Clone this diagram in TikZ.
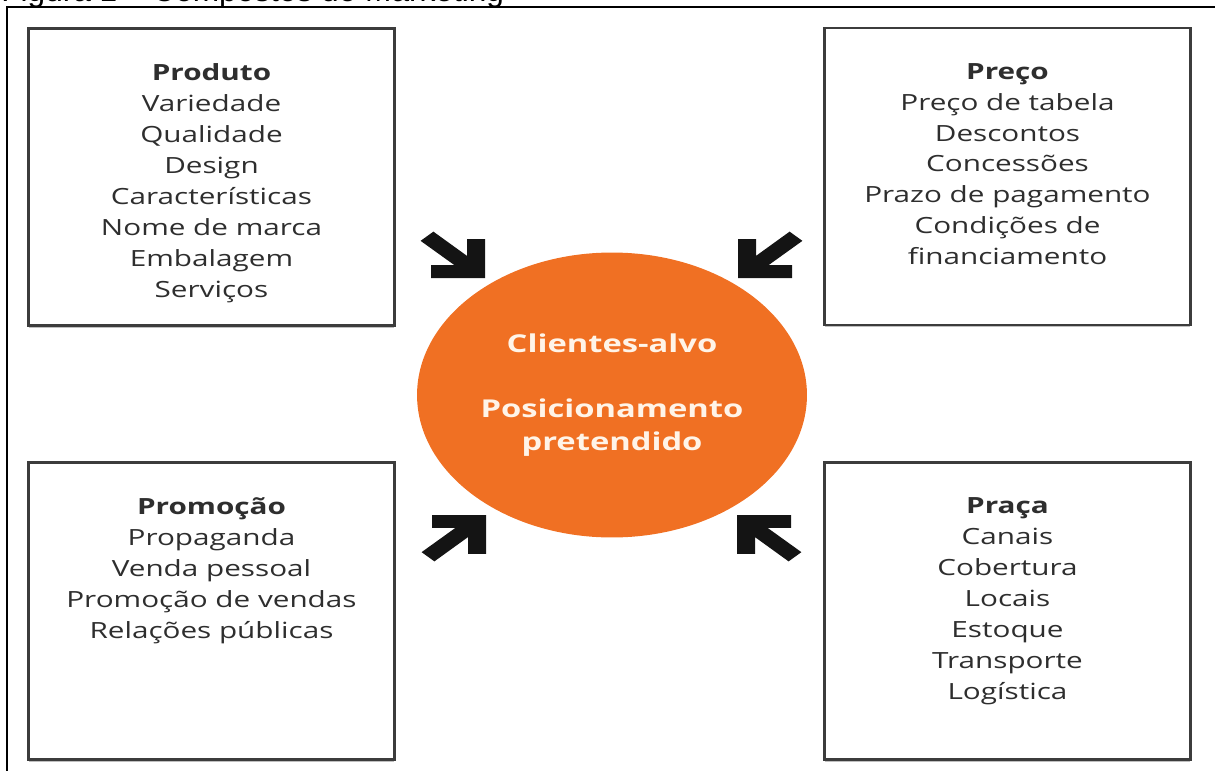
\documentclass[tikz,border=0pt]{standalone}
\usepackage{fontspec}
\setmainfont{Open Sans}[FakeStretch=1.33]
\newfontfamily\capfont{Liberation Sans}
\usetikzlibrary{positioning, shapes.geometric, shadows}

\definecolor{mixorange}{HTML}{F07023}
\definecolor{cream}{HTML}{FFF4E8}
\definecolor{boxgray}{HTML}{3C3C3C}
\definecolor{txtgray}{HTML}{2E2E2E}

\tikzset{pusharrow/.pic={
    \fill[black!92] (0,0) -- (0,-54) -- (-18,-54) -- (-18,-30.7) -- (-51.6,-64.4)
        -- (-64.4,-51.6) -- (-30.7,-18) -- (-54,-18) -- (-54,0) -- cycle;}}

\begin{document}
\begin{tikzpicture}[x=0.02cm, y=-0.02cm,
                    card/.style={draw=boxgray, line width=1.3pt, fill=white,
                            minimum width=7.32cm, minimum height=5.94cm,
                            drop shadow={shadow xshift=0pt, shadow yshift=-1.2pt, fill=black!50}},
                    list/.style={align=center, inner sep=0pt, text=txtgray,
                            font=\fontsize{12.7}{17.6}\selectfont},
                    core/.style={ellipse, fill=mixorange, minimum width=7.8cm, minimum height=5.7cm,
                            align=center, text=cream, font=\bfseries\fontsize{14}{18.7}\selectfont}]
                \clip (0,0) rectangle (1215,771);
                \node[anchor=base west, inner sep=0pt, font=\capfont\fontsize{18}{20}\selectfont] (titulo) at (1,1)
                    {Figura 1 – Compostos do Marketing};
                \draw[line width=1.1pt] (1215,7) -- (7,7) -- (7,771);

                \node[card] (produto) at (211.5,177) {};
                \node[card] (preco) at (1007.5,176.5) {};
                \node[card] (promocao) at (211.5,611) {};
                \node[card] (praca) at (1007.5,611) {};

                \node[list, below=0.72cm of produto.north] (produtotxt)
                    {\textbf{Produto}\\Variedade\\Qualidade\\Design\\Características\\Nome de marca\\Embalagem\\Serviços};
                \node[list, below=0.72cm of preco.north] (precotxt)
                    {\textbf{Preço}\\Preço de tabela\\Descontos\\Concessões\\Prazo de pagamento\\Condições de\\financiamento};
                \node[list, below=0.72cm of promocao.north] (promocaotxt)
                    {\textbf{Promoção}\\Propaganda\\Venda pessoal\\Promoção de vendas\\Relações públicas};
                \node[list, below=0.72cm of praca.north] (pracatxt)
                    {\textbf{Praça}\\Canais\\Cobertura\\Locais\\Estoque\\Transporte\\Logística};

                \node[core] (alvo) at (612,395) {Clientes-alvo\\[18pt]Posicionamento\\pretendido};

                \pic[yscale=0.72] at (485,278) {pusharrow};
                \pic[xscale=-1, yscale=0.72] at (738,278) {pusharrow};
                \pic[yscale=-0.72] at (486,515) {pusharrow};
                \pic[xscale=-1, yscale=-0.72] at (737,515) {pusharrow};
            \end{tikzpicture}
\end{document}
